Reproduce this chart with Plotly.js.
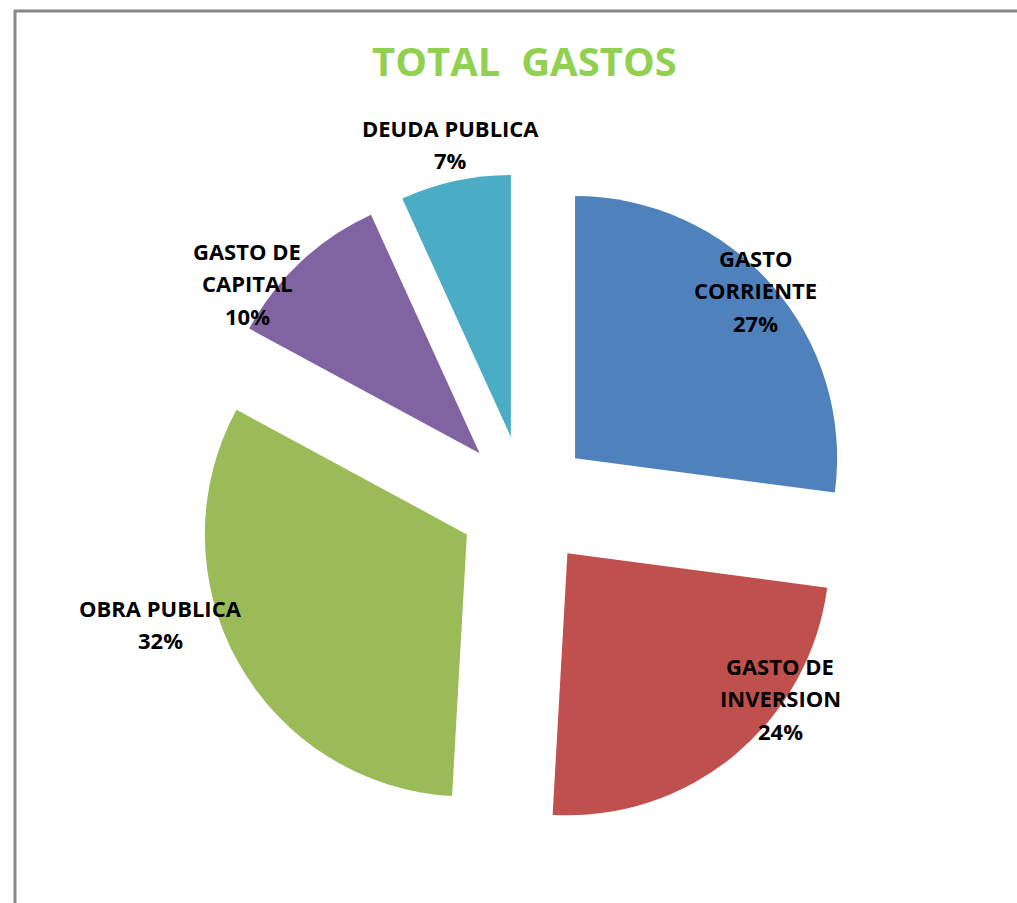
<!DOCTYPE html>
<html>
<head>
<meta charset="utf-8">
<script src="https://cdn.plot.ly/plotly-3.0.1.min.js"></script>
<style>
html,body{margin:0;padding:0;background:#fff;}
#chart{width:1017px;height:903px;}
</style>
</head>
<body>
<div id="chart"></div>
<script>
// ---- data ----
var categories = ['GASTO CORRIENTE', 'GASTO DE INVERSION', 'OBRA PUBLICA', 'GASTO DE CAPITAL', 'DEUDA PUBLICA'];
var labelLines = [['GASTO', 'CORRIENTE'], ['GASTO DE', 'INVERSION'], ['OBRA PUBLICA'], ['GASTO DE', 'CAPITAL'], ['DEUDA PUBLICA']];
var values = [27.1, 23.8, 32.0, 10.3, 6.8];
var colors = ['#4F81BD', '#C0504D', '#9BBB59', '#8064A2', '#4BACC6'];
var titleText = 'TOTAL\u00A0 GASTOS';

// ---- layout helpers (pixel -> paper) ----
var W = 1017, H = 903;
function px(x) { return x / W; }
function py(y) { return 1 - y / H; }

var total = values.reduce(function (a, b) { return a + b; }, 0);
var pctText = values.map(function (v) { return Math.round(v / total * 100) + '%'; });

// label block centres (pixels)
var labelPos = [[755, 290], [780, 698], [160, 624], [247, 283], [450, 144]];
var lineGap = 32.5;

var annotations = [];
categories.forEach(function (c, i) {
  var lines = labelLines[i].concat([pctText[i]]);
  var n = lines.length;
  lines.forEach(function (t, k) {
    annotations.push({
      xref: 'paper', yref: 'paper',
      x: px(labelPos[i][0]),
      y: py(labelPos[i][1] + (k - (n - 1) / 2) * lineGap),
      xanchor: 'center', yanchor: 'middle',
      text: '<b>' + t + '</b>',
      showarrow: false,
      font: {family: 'Open Sans, sans-serif', size: 22, color: '#000'}
    });
  });
});

annotations.push({
  xref: 'paper', yref: 'paper', x: px(524), y: py(61),
  xanchor: 'center', yanchor: 'middle',
  text: '<b>' + titleText + '</b>', showarrow: false,
  font: {family: 'Open Sans, sans-serif', size: 40, color: '#92D050'}
});

var pull = 0.254;
var trace = {
  type: 'pie',
  labels: categories,
  values: values,
  sort: false,
  direction: 'clockwise',
  rotation: 0,
  pull: values.map(function () { return pull; }),
  marker: {colors: colors, line: {width: 0}},
  textinfo: 'none',
  hoverinfo: 'none',
  showlegend: false,
  domain: {x: [px(196.4), px(853.6)], y: [py(830.6), py(173.4)]}
};

var layout = {
  width: W, height: H,
  margin: {l: 0, r: 0, t: 0, b: 0},
  paper_bgcolor: '#fff',
  showlegend: false,
  annotations: annotations,
  shapes: [
    {type: 'line', xref: 'paper', yref: 'paper', x0: px(15), x1: px(15), y0: py(10), y1: py(910), line: {color: '#888', width: 3}},
    {type: 'line', xref: 'paper', yref: 'paper', x0: px(14), x1: px(1020), y0: py(11), y1: py(11), line: {color: '#888', width: 3}}
  ]
};

Plotly.newPlot('chart', [trace], layout, {displayModeBar: false, staticPlot: true});
</script>
</body>
</html>
